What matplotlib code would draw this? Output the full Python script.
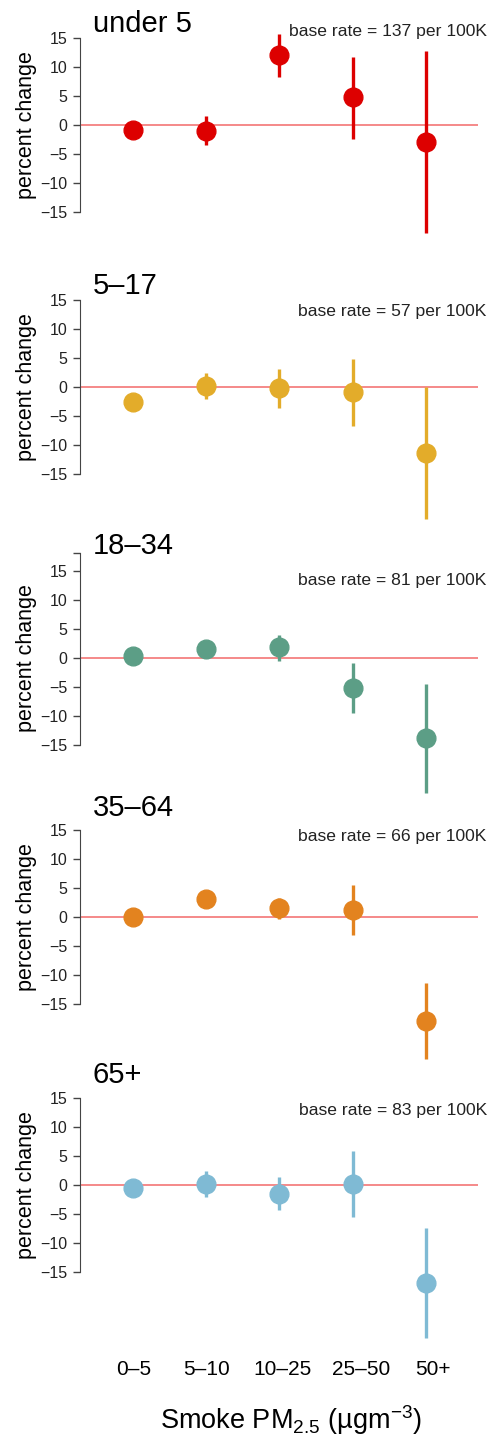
import matplotlib
matplotlib.use("Agg")
import matplotlib.pyplot as plt
import numpy as np

plt.rcParams['font.family'] = ['Liberation Sans', 'DejaVu Sans']
plt.rcParams['mathtext.fontset'] = 'custom'
plt.rcParams['mathtext.rm'] = 'Liberation Sans'
plt.rcParams['mathtext.it'] = 'Liberation Sans:italic'

# smoke PM2.5 bins
bins = ["0\u20135", "5\u201310", "10\u201325", "25\u201350", "50+"]

# age groups
groups = ["under 5", "5\u201317", "18\u201334", "35\u201364", "65+"]
base_rates = [137, 57, 81, 66, 83]
colors = ["#dd0000", "#e3ac2a", "#5c9e86", "#e3831f", "#7fbad4"]

# percent change estimates and confidence intervals
est_under5 = [-0.9, -1.0, 12.0, 4.75, -2.9]
lo_under5 = [-2.0, -3.5, 8.2, -2.4, -18.6]
hi_under5 = [0.2, 1.5, 15.7, 11.7, 12.8]

est_5_17 = [-2.5, 0.17, -0.23, -0.86, -11.4]
lo_5_17 = [-3.6, -2.1, -3.6, -6.7, -22.8]
hi_5_17 = [-1.4, 2.4, 3.1, 4.9, 0.0]

est_18_34 = [0.3, 1.5, 1.85, -5.1, -13.85]
lo_18_34 = [-0.8, 0.3, -0.5, -9.5, -23.2]
hi_18_34 = [1.4, 2.7, 4.0, -0.8, -4.5]

est_35_64 = [-0.05, 3.05, 1.5, 1.2, -18.0]
lo_35_64 = [-1.0, 2.0, -0.3, -3.1, -24.5]
hi_35_64 = [0.9, 4.1, 3.2, 5.6, -11.3]

est_65 = [-0.6, 0.17, -1.56, 0.17, -16.9]
lo_65 = [-1.6, -2.0, -4.3, -5.5, -26.4]
hi_65 = [0.4, 2.4, 1.3, 5.8, -7.4]

estimates = [est_under5, est_5_17, est_18_34, est_35_64, est_65]
lows = [lo_under5, lo_5_17, lo_18_34, lo_35_64, lo_65]
highs = [hi_under5, hi_5_17, hi_18_34, hi_35_64, hi_65]

# layout (pixels) for each panel: where the zero line sits
W, H = 491, 1442
zero_px = [125, 387, 658, 917, 1185]
px_per_unit = 5.8
ylim = (-19, 19)
spine_top = [15, 15, 18.1, 15, 15]
title_y = [16.0, 16.0, 18.0, 17.4, 17.6]
rate_y = [16.2, 13.0, 13.4, 13.8, 12.8]
label_shift = [0.01, 0.01, 0.04, 0.11, 0.1]

fig = plt.figure(figsize=(W / 100, H / 100), dpi=100)
x = np.arange(1, 6)
xlim = (0.28, 5.71)
ax_left, ax_w = 80, 398

for i in range(5):
    h_px = (ylim[1] - ylim[0]) * px_per_unit
    top_px = zero_px[i] - ylim[1] * px_per_unit
    ax = fig.add_axes([ax_left / W, 1 - (top_px + h_px) / H, ax_w / W, h_px / H])
    ax.patch.set_visible(False)
    ax.set_xlim(xlim)
    ax.set_ylim(ylim)

    ax.axhline(0, color="#f36a6a", lw=1.1, zorder=1)
    est = np.array(estimates[i])
    err = [est - np.array(lows[i]), np.array(highs[i]) - est]
    ax.errorbar(x, est, yerr=err, fmt='o', color=colors[i], ms=13.5,
                elinewidth=2.4, capsize=0, clip_on=False, zorder=3)

    for s in ["top", "right", "bottom"]:
        ax.spines[s].set_visible(False)
    ax.spines["left"].set_bounds(-15, spine_top[i])
    ax.spines["left"].set_color("#444444")
    ticks = [-15, -10, -5, 0, 5, 10, 15]
    labels = ["\u221215", "\u221210", "\u22125", "0", "5", "10", "15"]
    if spine_top[i] > 15:
        ticks = ticks + [spine_top[i]]
        labels = labels + [""]
    ax.set_yticks(ticks)
    ax.set_yticklabels(labels)
    ax.tick_params(axis='y', length=5, width=1, color="#444444", pad=4,
                   labelsize=11.5, labelcolor="#222222")

    if i == 4:
        ax.set_xticks(x + np.array(label_shift))
        ax.set_xticklabels(bins)
        ax.tick_params(axis='x', length=0, pad=47, labelsize=15)
    else:
        ax.set_xticks([])

    ax.text(0.457, title_y[i], groups[i], fontsize=21, ha='left', va='baseline')
    ax.text(5.83, rate_y[i], "base rate = %d per 100K" % base_rates[i],
            fontsize=12.6, ha='right', va='center', color="#222222")
    ax.text(xlim[0] - (80 - 26) / 73.3, 0, "percent change", rotation=90,
            fontsize=15.5, ha='center', va='center', clip_on=False)

fig.text(291 / W, 1 - 1420 / H, "Smoke PM$_{2.5}$ (\u00b5gm$^{-3}$)",
         fontsize=19.5, ha='center', va='center')

fig.savefig("out.png", dpi=100)
